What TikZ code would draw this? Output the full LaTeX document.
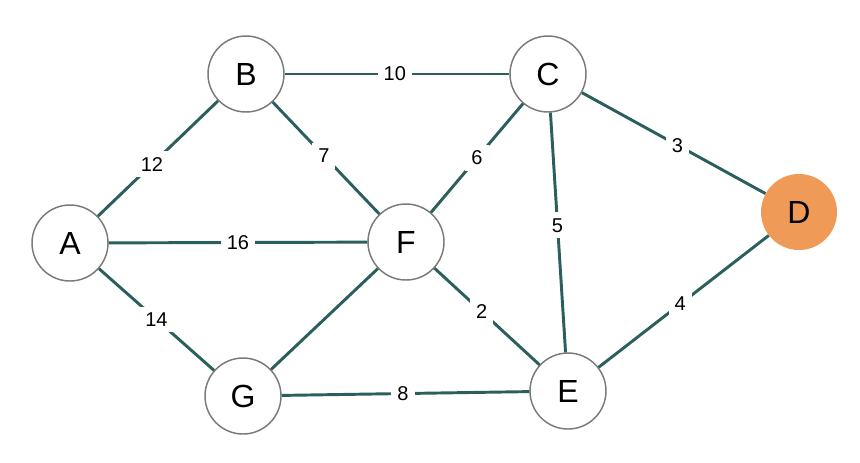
\documentclass[tikz,border=0pt]{standalone}
\usepackage{fontspec}
\setmainfont{Liberation Sans}
\definecolor{edgecol}{HTML}{2A5F5C}
\definecolor{nodeborder}{HTML}{7A7A7A}
\definecolor{dfill}{HTML}{F09A58}
\begin{document}
\begin{tikzpicture}[x=0.75pt,y=-0.75pt,
  vertex/.style={circle,draw=nodeborder,line width=1.1pt,fill=white,minimum size=57pt,inner sep=0pt,font=\fontsize{24}{27}\selectfont},
  target/.style={circle,fill=dfill,minimum size=57pt,inner sep=0pt,font=\fontsize{24}{27}\selectfont},
  edge/.style={draw=edgecol,line width=2.2pt},
  wlabel/.style={fill=white,inner sep=4.5pt,font=\fontsize{15}{17}\selectfont}]
\useasboundingbox (0,0) rectangle (860,462);
\node[vertex] (A) at (70,243) {A};
\node[vertex] (B) at (246,74) {B};
\node[vertex] (C) at (548,74) {C};
\node[target] (D) at (799,212) {D};
\node[vertex] (F) at (406,242) {F};
\node[vertex] (G) at (243,396) {G};
\node[vertex] (E) at (568,391) {E};
\path[edge] (A) -- node[wlabel,pos=0.45] {12} (B);
\path[edge] (A) -- node[wlabel,pos=0.5] {16} (F);
\path[edge] (A) -- node[wlabel,pos=0.5] {14} (G);
\path[edge] (B) -- node[wlabel,pos=0.49] {10} (C);
\path[edge] (B) -- node[wlabel,pos=0.48] {7} (F);
\path[edge] (C) -- node[wlabel,pos=0.5] {6} (F);
\path[edge] (C) -- node[wlabel,pos=0.52] {3} (D);
\path[edge] (C) -- node[wlabel,pos=0.47] {5} (E);
\path[edge] (F) -- node[wlabel,pos=0.45] {2} (E);
\path[edge] (F) -- (G);
\path[edge] (G) -- node[wlabel,pos=0.49] {8} (E);
\path[edge] (D) -- node[wlabel,pos=0.52] {4} (E);
\end{tikzpicture}
\end{document}
